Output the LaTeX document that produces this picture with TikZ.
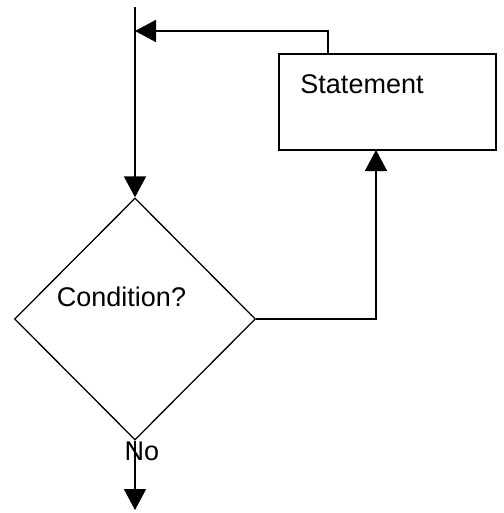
\documentclass[tikz,border=0pt]{standalone}
\usepackage{fontspec}
\setmainfont{Liberation Sans}
\usetikzlibrary{shapes.geometric,arrows.meta}
\tikzset{
  px/.style={x=1pt,y=-1pt},
  flowline/.style={line width=1.6pt},
  arr/.style={flowline,-{Triangle[length=21pt,width=22pt]}},
  lbl/.style={font=\fontsize{27}{30}\selectfont,inner sep=0pt},
}
\begin{document}
\begin{tikzpicture}[px]
\useasboundingbox (0,0) rectangle (503,513);
\node[draw,line width=1.3pt,diamond,minimum width=241pt,minimum height=242pt,inner sep=0pt] (dia) at (135,319) {};
\node[draw,flowline,rectangle,minimum width=217pt,minimum height=96pt,inner sep=0pt] (stmt) at (387.5,102) {};
\node[lbl] (stmttext) at (362,84) {Statement};
\node[lbl] (condtext) at (121.5,297) {Condition?};
\node[lbl] (no) at (142,451) {No};
\coordinate (start) at (135,7);
\coordinate (join) at (135,31);
\coordinate (loop) at (328,54);
\coordinate (sb) at (376,150);
\coordinate (end) at (135,510);
\draw[arr] (start) -- (dia.north);
\draw[arr] (loop) |- (join);
\draw[arr] (dia.east) -| (sb);
\draw[arr] (dia.south) -- (end);
\end{tikzpicture}
\end{document}
